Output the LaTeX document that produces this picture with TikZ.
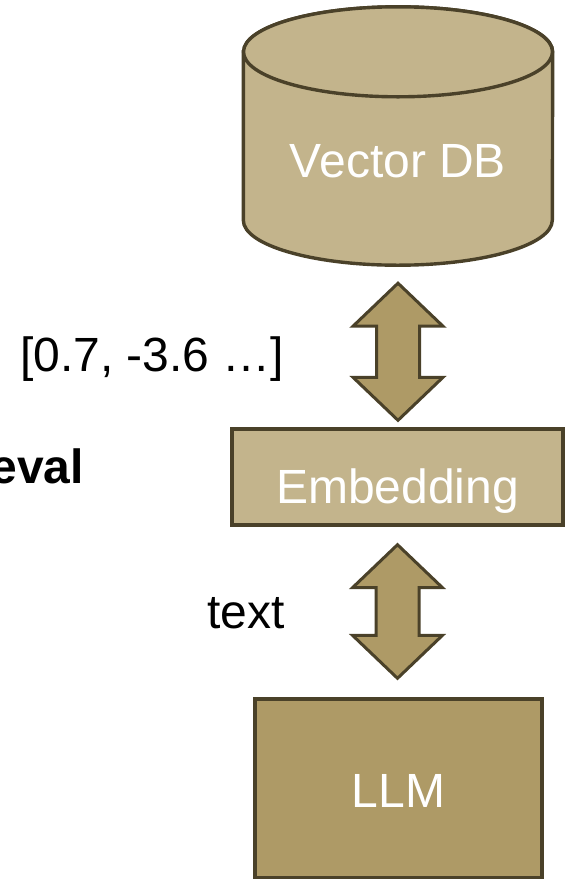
\documentclass[tikz,border=0pt]{standalone}
\usepackage{fontspec}
\setmainfont{Liberation Sans}
\usetikzlibrary{calc,backgrounds}
\definecolor{tanlight}{RGB}{195,180,140}
\definecolor{tandark}{RGB}{174,154,102}
\definecolor{rim}{RGB}{74,65,41}

% two-headed vertical block arrow between a top tip and a bottom tip
\newcommand{\twowayarrow}[2]{%
  \draw[arrowbody] let \p1=(#1), \p2=(#2) in
    (\x1,\y1) -- (\x1+45pt,\y1-43pt) -- (\x1+21.5pt,\y1-43pt)
    -- (\x1+21.5pt,\y2+43pt) -- (\x1+45pt,\y2+43pt) -- (\x1,\y2)
    -- (\x1-45pt,\y2+43pt) -- (\x1-21.5pt,\y2+43pt)
    -- (\x1-21.5pt,\y1-43pt) -- (\x1-45pt,\y1-43pt) -- cycle;}

\begin{document}
\begin{tikzpicture}[x=1pt,y=-1pt,
  every node/.style={inner sep=0pt, font=\fontsize{48}{58}\selectfont},
  box/.style={draw=rim, line width=3.4pt, text=white},
  lightbox/.style={box, fill=tanlight},
  darkbox/.style={box, fill=tandark},
  dbshape/.style={draw=rim, line width=3.4pt, fill=tanlight},
  arrowbody/.style={draw=rim, line width=3pt, fill=tandark, line join=miter},
  caption/.style={text=black}]
\useasboundingbox (0,0) rectangle (569,879);

% vector store (cylinder drawn behind its label)
\node[text=white, minimum width=309pt, text height=170pt, text depth=88pt] (db) at (398,136) {Vector DB};
\begin{pgfonlayer}{background}
  \draw[dbshape] ($(db.north west)+(0,45)$) -- ($(db.south west)+(0,-45)$)
    arc[start angle=180, end angle=0, x radius=154.5, y radius=45]
    -- ($(db.north east)+(0,45)$)
    arc[start angle=0, end angle=-180, x radius=154.5, y radius=45] -- cycle;
  \draw[dbshape] ($(db.north)+(0,45)$) ellipse[x radius=154.5, y radius=45];
\end{pgfonlayer}

% processing blocks
\node[lightbox, minimum width=331pt, text height=74pt, text depth=22pt] (emb) at (397.5,477) {Embedding};
\node[darkbox, minimum width=287pt, text height=108pt, text depth=71pt] (llm) at (398.5,788.5) {LLM};

% two-way connectors
\coordinate (a1top) at ($(db.south)+(0,18)$);
\coordinate (a1bot) at ($(emb.north)+(0,-7)$);
\coordinate (a2top) at ($(emb.south)+(0,18)$);
\coordinate (a2bot) at ($(llm.north)+(0,-19)$);
\twowayarrow{a1top}{a1bot}
\twowayarrow{a2top}{a2bot}

% side captions
\node[caption, anchor=base west] (vec) at (20,371) {[0.7, -3.6 …]};
\node[caption, anchor=base east, font=\fontsize{48}{58}\selectfont\bfseries] (ret) at (84,483) {eval};
\node[caption, anchor=base west] (txt) at (207,628) {text};
\end{tikzpicture}
\end{document}
